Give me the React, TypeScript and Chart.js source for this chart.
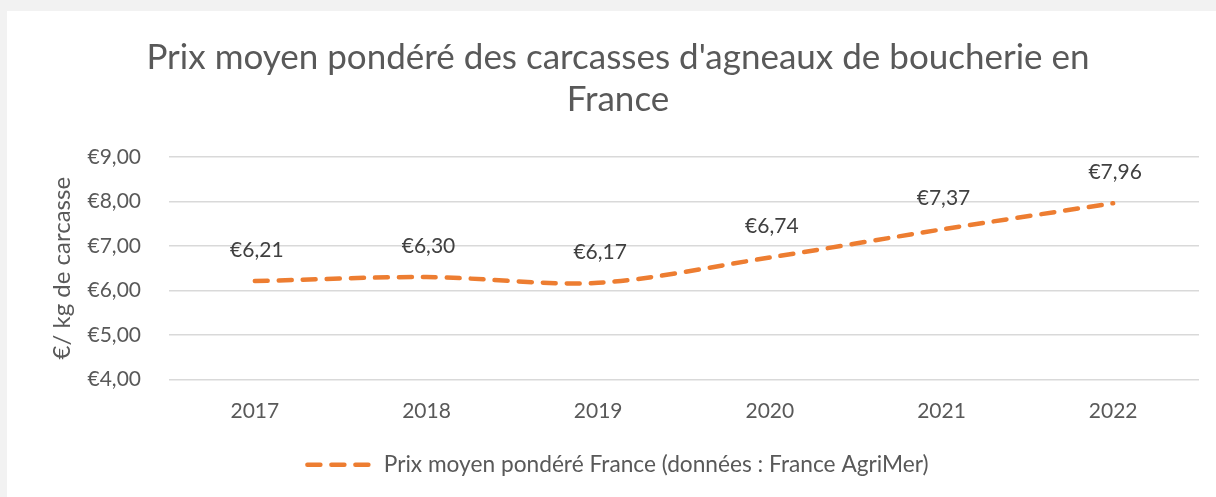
import React, { useEffect, useRef } from "react";
import { Chart, registerables } from "chart.js";

Chart.register(...registerables);

const categories = ["2017", "2018", "2019", "2020", "2021", "2022"];
const prices = [6.21, 6.3, 6.17, 6.74, 7.37, 7.96];
const seriesLabel = "Prix moyen pondéré France (données : France AgriMer)";
const titleLines = ["Prix moyen pondéré des carcasses d'agneaux de boucherie en", "France"];
const yAxisTitle = "€/ kg de carcasse";
const yMin = 4;
const yMax = 9;

const FONT = "Lato, 'Open Sans', sans-serif";
const TEXT = "#595959";
const ORANGE = "#ED7D31";
const DASH = [13, 11];

const fmt = (v: number) => "€" + v.toFixed(2).replace(".", ",");

const dataLabelPlugin = {
  id: "dataLabels",
  afterDatasetsDraw(chart: any) {
    const ctx = chart.ctx;
    const meta = chart.getDatasetMeta(0);
    ctx.save();
    ctx.font = `21px ${FONT}`;
    ctx.fillStyle = "#404040";
    ctx.textAlign = "center";
    ctx.textBaseline = "middle";
    meta.data.forEach((pt: any, i: number) => {
      const v = chart.data.datasets[0].data[i] as number;
      ctx.fillText(fmt(v), pt.x + 2, pt.y - 31);
    });
    ctx.restore();
  },
};

export default function App() {
  const ref = useRef<HTMLCanvasElement | null>(null);
  useEffect(() => {
    document.body.style.margin = "0";
    const chart = new Chart(ref.current!, {
      type: "line",
      data: {
        labels: categories,
        datasets: [
          {
            label: seriesLabel,
            data: prices,
            borderColor: ORANGE,
            backgroundColor: ORANGE,
            borderWidth: 4.5,
            borderDash: DASH,
            borderCapStyle: "round",
            tension: 0.3,
            pointRadius: 0,
            pointHoverRadius: 0,
            fill: false,
          },
        ],
      },
      options: {
        animation: false,
        responsive: false,
        maintainAspectRatio: false,
        layout: { padding: { left: 30, right: 17, top: 26, bottom: 11 } },
        scales: {
          x: {
            offset: true,
            grid: { display: false },
            border: { display: false },
            ticks: { color: TEXT, font: { family: FONT, size: 21 }, padding: 11 },
            afterFit: (scale: any) => {
              scale.height = 64;
            },
          },
          y: {
            min: yMin,
            max: yMax,
            ticks: {
              stepSize: 1,
              color: TEXT,
              font: { family: FONT, size: 21 },
              padding: 28,
              callback: (v: any) => fmt(Number(v)),
            },
            grid: { color: "#D9D9D9", lineWidth: 1.5, drawTicks: false },
            border: { display: false },
            title: {
              display: true,
              text: yAxisTitle,
              color: TEXT,
              font: { family: FONT, size: 24 },
              padding: { top: 11, bottom: 0 },
            },
            afterFit: (scale: any) => {
              scale.width = 132;
            },
          },
        },
        plugins: {
          title: {
            display: true,
            text: titleLines,
            color: TEXT,
            font: { family: FONT, size: 35, weight: "normal" },
            lineHeight: 1.3,
            padding: { top: 0, bottom: 36 },
          },
          legend: {
            position: "bottom",
            labels: {
              color: TEXT,
              font: { family: FONT, size: 22.7 },
              usePointStyle: true,
              pointStyle: "line",
              pointStyleWidth: 65,
              padding: 10,
              generateLabels: (chart: any) =>
                Chart.defaults.plugins.legend.labels.generateLabels(chart).map((l: any) => ({
                  ...l,
                  lineDash: DASH,
                  lineCap: "round",
                  lineWidth: 4.5,
                  strokeStyle: ORANGE,
                  fillStyle: ORANGE,
                })),
            },
          },
          tooltip: { enabled: false },
        },
      },
      plugins: [dataLabelPlugin],
    });
    return () => chart.destroy();
  }, []);

  return (
    <div style={{ position: "relative", width: 1216, height: 497, background: "#F2F2F2", overflow: "hidden" }}>
      <div style={{ position: "absolute", left: 7, top: 11, width: 1209, height: 486, background: "#FFFFFF" }}>
        <canvas ref={ref} width={1209} height={486} style={{ display: "block" }} />
      </div>
    </div>
  );
}
